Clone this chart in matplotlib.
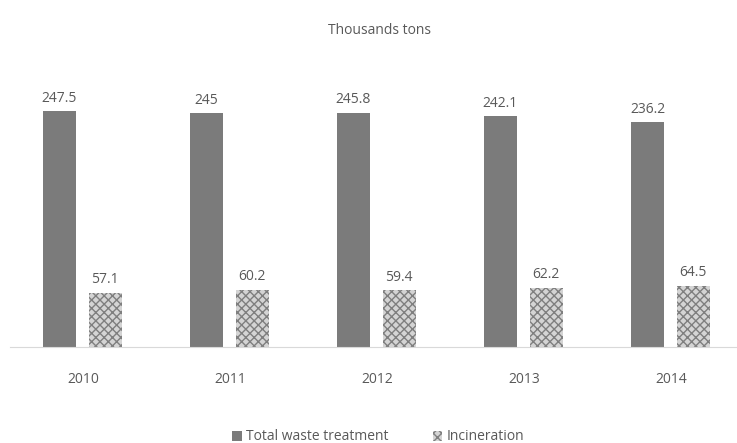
import numpy as np
import matplotlib
matplotlib.use("Agg")
import matplotlib.pyplot as plt

years = ["2010", "2011", "2012", "2013", "2014"]
total = [247.5, 245, 245.8, 242.1, 236.2]
incineration = [57.1, 60.2, 59.4, 62.2, 64.5]
total_labels = ["247.5", "245", "245.8", "242.1", "236.2"]
inc_labels = ["57.1", "60.2", "59.4", "62.2", "64.5"]

txt = "#595959"
plt.rcParams["font.family"] = ["Open Sans", "DejaVu Sans"]
plt.rcParams["hatch.linewidth"] = 1.0

fig = plt.figure(figsize=(7.37, 4.43), dpi=100)
# plot area: baseline at y=347px, 5 slots of ~147px starting at x~9.5
ax = fig.add_axes([9.5 / 737, (443 - 347) / 443, 735 / 737, 286 / 443])

x = np.arange(len(years))
w = 0.225
b1 = ax.bar(x - 0.16, total, w, color="#7b7b7b")
b2 = ax.bar(x + 0.15, incineration, w, color="#d4d4d4", edgecolor="#7f7f7f",
            hatch="xxxx", linewidth=0)

for rect, lab in zip(b1, total_labels):
    ax.text(rect.get_x() + rect.get_width() / 2, rect.get_height() + 5.5, lab,
            ha="center", va="bottom", fontsize=10, color=txt)
for rect, lab in zip(b2, inc_labels):
    ax.text(rect.get_x() + rect.get_width() / 2, rect.get_height() + 5.5, lab,
            ha="center", va="bottom", fontsize=10, color=txt)

ax.set_xlim(-0.5, len(years) - 0.5)
ax.set_ylim(0, 300)
ax.set_xticks(x)
ax.set_xticklabels(years, fontsize=10, color=txt)
ax.tick_params(axis="x", length=0, pad=18)
ax.set_yticks([])
for s in ["top", "right", "left"]:
    ax.spines[s].set_visible(False)
ax.spines["bottom"].set_color("#d9d9d9")

fig.text(380 / 737, 1 - 30 / 443, "Thousands tons", ha="center", va="center",
         fontsize=10, color=txt)

fig.legend([b1, b2], ["Total waste treatment", "Incineration"],
           loc="center", bbox_to_anchor=(378 / 737, 1 - 437 / 443), ncol=2,
           frameon=False, fontsize=10, labelcolor=txt, handlelength=0.7,
           handleheight=0.7, handletextpad=0.3, columnspacing=3.2)

fig.savefig("out.png", dpi=100)
